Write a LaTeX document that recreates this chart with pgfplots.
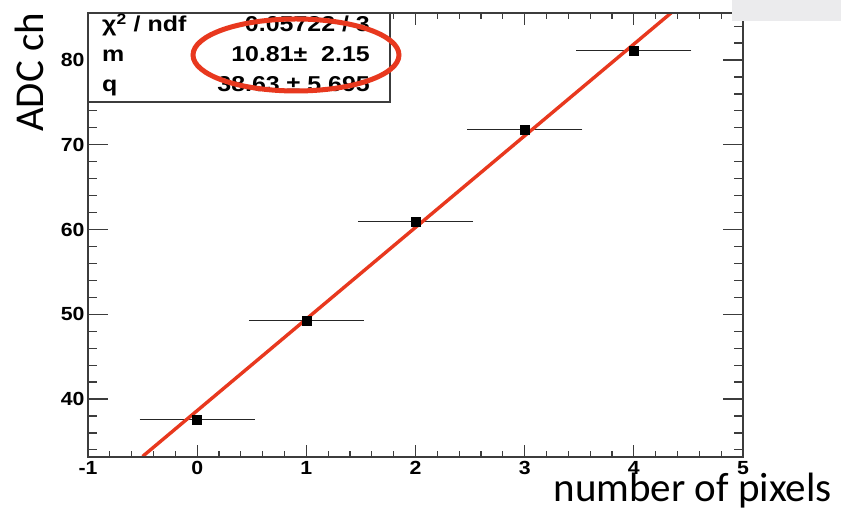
\documentclass[border=0pt]{standalone}
\usepackage{fontspec}
\setmainfont{Liberation Sans}[FakeStretch=1.12]
\newfontfamily\statfont{Liberation Sans}[FakeStretch=1.16]
\newfontfamily\calibri{Carlito}
\usepackage{pgfplots}
\pgfplotsset{compat=1.18}
\definecolor{fitred}{RGB}{232,56,30}
\definecolor{framegray}{RGB}{60,60,60}
\definecolor{cornergray}{RGB}{235,235,237}
\pgfplotstableread{
x y ex
0 37.55 0.5
1 49.30 0.5
2 60.93 0.5
3 71.80 0.5
4 81.10 0.5
}\pixdata
\pgfplotstableread{
x y
-0.5 33.225
4.5 87.275
}\fitdata
\begin{document}
\begin{tikzpicture}[x=1bp,y=1bp]
\useasboundingbox (0,0) rectangle (841,517);
\pgfplotsset{
  base/.style={
    scale only axis, width=655bp, height=444bp,
    xmin=-1, xmax=5, ymin=33.16, ymax=85.55,
    at={(88bp,60bp)}, anchor=south west,
    axis line style={framegray, line width=1.3bp},
    tick align=inside, xtick pos=both, ytick pos=both,
    every tick/.style={framegray, line width=1.2bp},
    /pgf/number format/assume math mode=true,
    ticklabel style={font=\fontsize{19bp}{19bp}\selectfont\bfseries},
  }
}
\begin{axis}[base,
  xtick={-1,0,1,2,3,4,5},
  minor xtick={-0.8,-0.6,-0.4,-0.2,0.2,0.4,0.6,0.8,1.2,1.4,1.6,1.8,2.2,2.4,2.6,2.8,3.2,3.4,3.6,3.8,4.2,4.4,4.6,4.8},
  ytick=\empty,
  major tick length=12bp, minor tick length=6bp,
  xticklabel style={yshift=-1bp},
]
\addplot[draw=none, mark=none, error bars/.cd, x dir=both, x explicit,
  error bar style={black!85, line width=1.1bp},
  error mark options={black!85, line width=1.1bp, mark size=3bp}]
  table[x=x, y=y, x error=ex] {\pixdata};
\addplot[fitred, line width=3.4bp, mark=none] table[x=x, y=y] {\fitdata};
\addplot[only marks, mark=square*, mark size=4.5bp, black] table[x=x, y=y] {\pixdata};
\end{axis}
\begin{axis}[base,
  xtick=\empty,
  ytick={40,50,60,70,80},
  minor ytick={34,36,38,42,44,46,48,52,54,56,58,62,64,66,68,72,74,76,78,82,84},
  major tick length=20bp, minor tick length=9bp,
]
\end{axis}
% stats box
\draw[framegray, line width=1.3bp, fill=white] (88,504) rectangle (390,415);
\begin{scope}[every node/.style={inner sep=0pt, font=\statfont\fontsize{21.5bp}{21.5bp}\selectfont\bfseries}]
\node[anchor=base west] at (102,485) {χ\textsuperscript{2} / ndf};
\node[anchor=base east] at (370,485) {0.05722 / 3};
\node[anchor=base west] at (102,455) {m};
\node[anchor=base east] at (370,455) {10.81±\ \ 2.15};
\node[anchor=base west] at (102,425) {q};
\node[anchor=base east] at (370,425) {38.63 ± 5.695};
\end{scope}
\draw[fitred, line width=5bp] (296,462) ellipse [x radius=103, y radius=36];
% corner
\fill[cornergray] (732,496) rectangle (841,517);
% axis titles
\node[font=\calibri\fontsize{41bp}{41bp}\selectfont, anchor=base east, inner sep=0pt] at (832,15) {number of pixels};
\node[font=\calibri\fontsize{41bp}{41bp}\selectfont, anchor=base west, rotate=90, inner sep=0pt] at (43,385) {ADC ch};
\end{tikzpicture}
\end{document}
